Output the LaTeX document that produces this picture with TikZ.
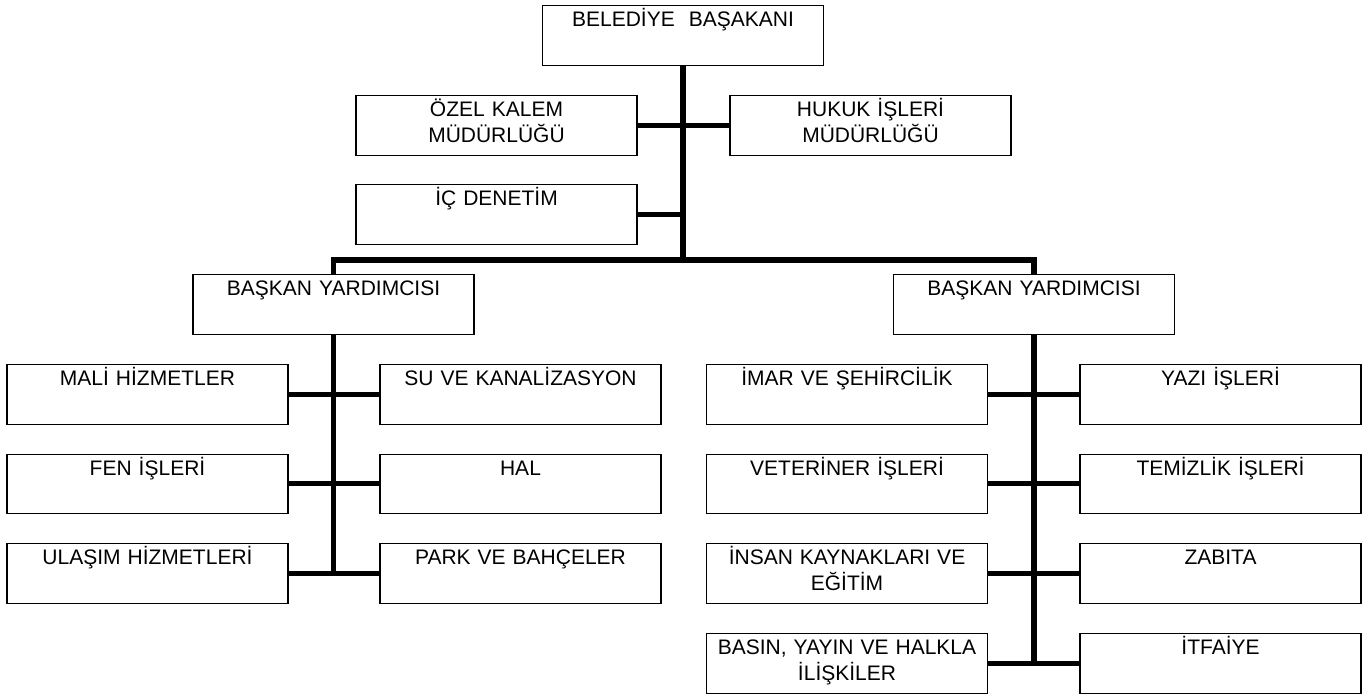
\documentclass[tikz,border=0pt]{standalone}
\usepackage{fontspec}
\setmainfont{Liberation Sans}

\begin{document}
\begin{tikzpicture}[x=0.5pt, y=-0.5pt,
        unit/.style={draw, line width=0.6pt, anchor=north, align=center,
                text width=138.5pt, inner xsep=1pt, inner ysep=0pt,
                text height=10.5pt, text depth=19.25pt,
                font=\fontsize{10.5}{13}\selectfont},
        link/.style={line width=2.6pt}]

        \useasboundingbox (0, 0) rectangle (1368, 698);

        \node[unit] (bask) at (683, 5) {BELEDİYE\ \ BAŞAKANI};
        \node[unit] (ozel) at (496.5, 95) {ÖZEL KALEM\\MÜDÜRLÜĞÜ};
        \node[unit] (hukuk) at (870.5, 95) {HUKUK İŞLERİ\\MÜDÜRLÜĞÜ};
        \node[unit] (ic) at (496.5, 184) {İÇ DENETİM};
        \node[unit] (yrd1) at (333.5, 274) {BAŞKAN YARDIMCISI};
        \node[unit] (yrd2) at (1034, 274) {BAŞKAN YARDIMCISI};

        \node[unit] (mali) at (147.5, 364) {MALİ HİZMETLER};
        \node[unit] (su) at (520.5, 364) {SU VE KANALİZASYON};
        \node[unit] (fen) at (147.5, 453.5) {FEN İŞLERİ};
        \node[unit] (hal) at (520.5, 453.5) {HAL};
        \node[unit] (ulasim) at (147.5, 543) {ULAŞIM HİZMETLERİ};
        \node[unit] (park) at (520.5, 543) {PARK VE BAHÇELER};

        \node[unit] (imar) at (847, 364) {İMAR VE ŞEHİRCİLİK};
        \node[unit] (yazi) at (1220.5, 364) {YAZI İŞLERİ};
        \node[unit] (vet) at (847, 453.5) {VETERİNER İŞLERİ};
        \node[unit] (temiz) at (1220.5, 453.5) {TEMİZLİK İŞLERİ};
        \node[unit] (insan) at (847, 543) {İNSAN KAYNAKLARI VE\\EĞİTİM};
        \node[unit] (zabita) at (1220.5, 543) {ZABITA};
        \node[unit] (basin) at (847, 633) {BASIN, YAYIN VE HALKLA\\İLİŞKİLER};
        \node[unit] (itfaiye) at (1220.5, 633) {İTFAİYE};

        \coordinate (bus) at (683, 260);

        \draw[link] (bask.south) -- (bask.south |- bus);
        \draw[link] (ozel.east) -- (hukuk.west);
        \draw[link] (ic.east) -- (ic.east -| bask.south);
        \draw[link] (yrd1.north) -- (yrd1.north |- bus) -- (yrd2.north |- bus) -- (yrd2.north);

        \draw[link] (yrd1.south) -- (yrd1.south |- ulasim.east);
        \draw[link] (mali.east) -- (su.west);
        \draw[link] (fen.east) -- (hal.west);
        \draw[link] (ulasim.east) -- (park.west);

        \draw[link] (yrd2.south) -- (yrd2.south |- basin.east);
        \draw[link] (imar.east) -- (yazi.west);
        \draw[link] (vet.east) -- (temiz.west);
        \draw[link] (insan.east) -- (zabita.west);
        \draw[link] (basin.east) -- (itfaiye.west);
    \end{tikzpicture}
\end{document}
